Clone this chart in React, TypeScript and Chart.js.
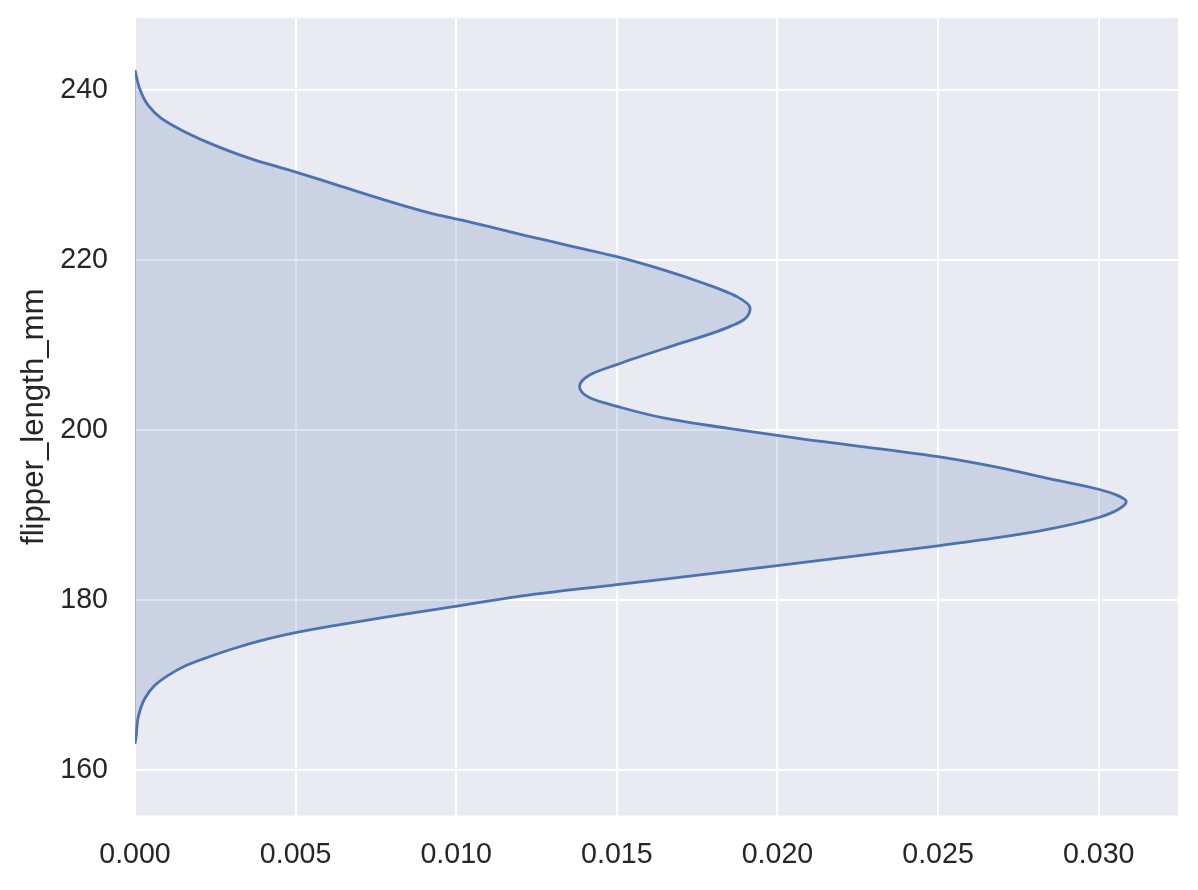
import React, { useEffect, useRef } from "react";
import { Chart, registerables } from "chart.js";

Chart.register(...registerables);

// flipper_length_mm values (y) along the KDE curve
const flipperValues: number[] = [
  163.1, 164.07, 166.03, 168.38, 169.94, 171.11, 172.22, 172.99, 174.33, 175.42,
  176.13, 176.98, 177.97, 178.86, 180.6, 181.8, 184.04, 186.38,
  187.36, 188.34, 189.71, 190.68, 191.59, 192.25, 193.03, 194.29, 195.58, 196.87,
  198.99, 200.16, 201.43, 202.79, 203.77, 205.13, 206.5, 207.7, 209.81,
  211.57, 212.94, 214.32, 215.69, 217.26, 218.83, 220.39, 222.74, 224.62, 225.4,
  227.08, 228.93, 230.4, 231.9, 233.34, 235.1, 236.68, 238.24, 240.2, 242.35,
];

// KDE density (x) at each flipper value
const densityValues: number[] = [
  0, 0.00004, 0.00009, 0.0003, 0.00061, 0.00102, 0.00154, 0.00206, 0.0031, 0.00413,
  0.00496, 0.0062, 0.00776, 0.00932, 0.0123, 0.015, 0.02, 0.025,
  0.0269, 0.02845, 0.03, 0.03062, 0.03086, 0.03062, 0.03, 0.02845, 0.0269, 0.025,
  0.0207, 0.01853, 0.01645, 0.015, 0.01417, 0.01384, 0.01417, 0.015, 0.01666,
  0.01811, 0.01894, 0.01915, 0.01874, 0.0177, 0.01645, 0.015, 0.0123, 0.01025, 0.00932,
  0.00776, 0.0062, 0.00496, 0.00362, 0.00258, 0.00154, 0.00081, 0.0004, 0.00014, 0,
];

const xTicks: number[] = [0, 0.005, 0.01, 0.015, 0.02, 0.025, 0.03];
const yTicks: number[] = [160, 180, 200, 220, 240];

const X_MIN = 0;
const X_MAX = 0.03247;
const Y_MIN = 154.65;
const Y_MAX = 248.47;

const TEXT = "#262626";
const FONT = "'Liberation Sans', Arial, sans-serif";

const bgPlugin = {
  id: "plotBg",
  beforeDraw(chart: any) {
    const { ctx, chartArea } = chart;
    if (!chartArea) return;
    ctx.save();
    ctx.fillStyle = "#EAEAF2";
    ctx.fillRect(
      chartArea.left,
      chartArea.top,
      chartArea.right - chartArea.left,
      chartArea.bottom - chartArea.top
    );
    ctx.restore();
  },
};

export default function App() {
  const canvasRef = useRef<HTMLCanvasElement | null>(null);

  useEffect(() => {
    const canvas = canvasRef.current;
    if (!canvas) return;
    const curve = flipperValues.map((y, i) => ({ x: densityValues[i], y }));
    const edge = [
      { x: densityValues[0], y: flipperValues[0] },
      {
        x: densityValues[densityValues.length - 1],
        y: flipperValues[flipperValues.length - 1],
      },
    ];
    const chart = new Chart(canvas, {
      type: "line",
      data: {
        datasets: [
          {
            data: curve,
            borderColor: "#4C72B0",
            backgroundColor: "rgba(76,114,176,0.2)",
            borderWidth: 2.8,
            pointRadius: 0,
            cubicInterpolationMode: "monotone",
            fill: "origin",
          },
          {
            data: edge,
            borderColor: "rgba(76,114,176,0.8)",
            borderWidth: 1,
            pointRadius: 0,
            fill: false,
          },
        ],
      },
      options: {
        indexAxis: "y",
        responsive: false,
        animation: false,
        layout: { padding: { top: 18, right: 20, left: 0, bottom: 0 } },
        plugins: {
          legend: { display: false },
          tooltip: { enabled: false },
        },
        scales: {
          x: {
            type: "linear",
            min: X_MIN,
            max: X_MAX,
            border: { display: false },
            grid: { color: "#FFFFFF", lineWidth: 2, drawTicks: false },
            afterBuildTicks: (scale: any) => {
              scale.ticks = xTicks.map((v) => ({ value: v }));
            },
            afterFit: (scale: any) => {
              scale.height = 74.5;
              scale.paddingLeft = 0;
              scale.paddingRight = 0;
            },
            ticks: {
              padding: 22,
              color: TEXT,
              font: { family: FONT, size: 28.6 },
              maxRotation: 0,
              autoSkip: false,
              callback: (v: any) => Number(v).toFixed(3),
            },
          },
          y: {
            type: "linear",
            min: Y_MIN,
            max: Y_MAX,
            border: { display: false },
            grid: { color: "#FFFFFF", lineWidth: 2, drawTicks: false },
            afterBuildTicks: (scale: any) => {
              scale.ticks = yTicks.map((v) => ({ value: v }));
            },
            afterFit: (scale: any) => {
              scale.width = 135;
              scale.paddingTop = 0;
              scale.paddingBottom = 0;
            },
            ticks: {
              padding: 27,
              color: TEXT,
              font: { family: FONT, size: 28.6 },
              autoSkip: false,
              callback: (v: any) => String(v),
            },
            title: {
              display: true,
              text: "flipper_length_mm",
              color: TEXT,
              font: { family: FONT, size: 31.2 },
              padding: { top: 16, bottom: 0 },
            },
          },
        },
      },
      plugins: [bgPlugin],
    } as any);
    return () => chart.destroy();
  }, []);

  return (
    <div style={{ position: "absolute", left: 0, top: 0, width: 1198, height: 890 }}>
      <canvas ref={canvasRef} width={1198} height={890} />
    </div>
  );
}
